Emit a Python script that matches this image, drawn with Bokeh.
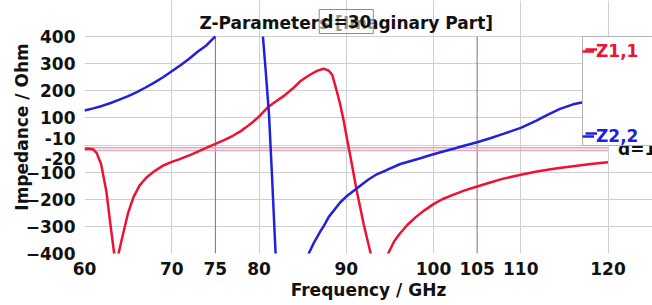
import numpy as np
from bokeh.plotting import figure
from bokeh.models import Range1d, Label, Legend, LegendItem, FixedTicker
from bokeh.embed import file_html
from bokeh.resources import INLINE

# ---- data ----
freq_z11 = [60.0, 60.5, 61.0, 61.4, 61.9, 62.5, 63.0, 63.4, 63.65, 63.9, 64.5, 65.0, 65.6, 66.3,
            67.1, 68.0, 69.0, 70.0, 70.9, 72.0, 72.8, 74.0, 75.0, 76.0, 77.0, 78.0, 78.5, 79.3,
            80.1, 81.0, 82.0, 82.9, 84.0, 84.8, 85.8, 86.7, 87.4, 88.0, 88.4, 88.9, 89.3, 89.7,
            90.1, 90.5, 91.2, 92.0, 92.8, 93.3, 94.3, 94.8, 95.5, 96.1, 97.0, 98.0, 99.0, 100.0,
            101.0, 102.3, 103.5, 105.0, 106.5, 108.0, 110.0, 112.0, 114.0, 116.0, 118.0, 120.0]
z11 = [-14, -14, -16, -30, -70, -170, -300, -400, -440, -400, -317, -250, -193, -150,
       -120, -97, -76, -62, -52, -38, -27, -10, 4, 18, 34, 53, 65, 85,
       108, 139, 162, 182, 212, 237, 258, 274, 281, 274, 258, 200, 150, 90,
       20, -46, -169, -292, -400, -520, -500, -400, -355, -328, -295, -265, -240, -218,
       -200, -183, -168, -153, -138, -124, -110, -97, -87, -78, -70, -64]

# Z2,2 leaves the chart at the top near 75 GHz and comes back near 80.5 GHz (pole)
freq_z22 = [60.0, 61.0, 62.0, 63.0, 64.0, 65.0, 66.0, 67.0, 68.0, 69.0, 70.0, 71.0, 72.0, 73.0,
            74.0, 74.5, 75.0, 78.0, 80.45, 80.8, 81.15, 81.5, 81.9, 82.2, 84.0,
            85.3, 85.7, 86.3, 87.0, 87.4, 88.0, 89.3, 90.0, 91.2, 92.5, 93.5, 94.6, 96.2, 98.4,
            99.6, 101.0, 102.3, 103.5, 105.0, 106.5, 108.0, 110.0, 111.8, 113.0, 114.5, 116.0,
            117.0, 118.0, 119.0, 120.0]
z22 = [127, 135, 144, 155, 167, 180, 195, 212, 230, 250, 272, 294, 318, 345,
       368, 385, 400, np.nan, 400, 260, 110, -120, -400, -500, np.nan,
       -480, -400, -360, -320, -300, -265, -212, -190, -160, -128, -108, -93, -70, -50,
       -38, -25, -14, -3, 10, 25, 41, 63, 90, 110, 133, 150,
       157, 165, 175, 185]

x_ticks = [60, 70, 80, 90, 100, 110, 120]
y_ticks = [-400, -300, -200, -100, 0, 100, 200, 300, 400]
marker_freqs = [75, 105]
marker_freq_labels = ["75", "105"]
marker_levels = [-10, -20]
marker_level_labels = ["-10", "-20"]
marker_freq_delta = "d=30"
marker_level_delta = "d=10"
series_names = ["Z1,1", "Z2,2"]
title_text = "Z-Parameters [Imaginary Part]"
x_label = "Frequency / GHz"
y_label = "Impedance / Ohm"

# ---- layout / style ----
RED = "#ee1133"
BLUE = "#2020dd"
FONT = "DejaVu Sans"
FS = "17px"
INK = "#111111"
W, H = 652, 305
PL, PR, PT, PB = 84, 607.5, 36, 253          # plot rectangle in pixels
X0, X1, Y0, Y1 = 60, 120, -400, 400
ppx = (PR - PL) / (X1 - X0)
ppy = (PB - PT) / (Y1 - Y0)
x_view_end = X0 + (W - PL) / ppx              # frame reaches the right edge (legend lives there)
y_view_end = Y1 + PT / ppy                    # frame reaches the top edge (title lives there)

p = figure(width=W, height=H, output_backend="svg", toolbar_location=None,
           x_range=Range1d(X0, x_view_end), y_range=Range1d(Y0, y_view_end),
           min_border_left=PL, min_border_right=0, min_border_top=0, min_border_bottom=H - PB)
p.title.visible = False
p.outline_line_color = None
p.background_fill_color = "white"
p.border_fill_color = "white"

for g in (p.xgrid, p.ygrid):
    g.grid_line_color = "#cfcfcf"
    g.grid_line_width = 1
p.xgrid.ticker = FixedTicker(ticks=x_ticks)
p.ygrid.ticker = FixedTicker(ticks=y_ticks)
p.xgrid.bounds = (Y0, Y1)
p.ygrid.bounds = (X0, X1)

# marker values shown on the axes next to the marker lines
level_label_pos = [round(lv + off / ppy, 2) for lv, off in zip(marker_levels, [9, -8])]
p.xaxis.ticker = FixedTicker(ticks=sorted(x_ticks + marker_freqs))
p.yaxis.ticker = FixedTicker(ticks=y_ticks + level_label_pos)
overrides = {0: ""}
overrides.update({pos: t for pos, t in zip(level_label_pos, marker_level_labels)})
p.yaxis.major_label_overrides = overrides
p.xaxis.bounds = (X0, X1)
p.yaxis.bounds = (Y0, Y1)
for ax in (p.xaxis, p.yaxis):
    ax.major_tick_line_color = None
    ax.minor_tick_line_color = None
    ax.axis_line_color = None
    ax.major_label_text_font = FONT
    ax.major_label_text_font_size = FS
    ax.major_label_text_font_style = "bold"
    ax.major_label_text_color = INK
    ax.axis_label_text_font = FONT
    ax.axis_label_text_font_size = FS
    ax.axis_label_text_font_style = "bold"
    ax.axis_label_text_color = INK
p.xaxis.major_label_standoff = 2
p.yaxis.major_label_standoff = 3
p.yaxis.axis_label = y_label
p.yaxis.axis_label_standoff = -9
p.xaxis.axis_label = x_label
p.xaxis.axis_label_standoff = 2

# marker lines (limited to the plot rectangle)
p.segment(x0=marker_freqs, x1=marker_freqs, y0=[Y0] * 2, y1=[Y1] * 2,
          line_color="#9e5c74", line_width=1)
p.segment(x0=[X0] * 2, x1=[X1] * 2, y0=marker_levels, y1=marker_levels,
          line_color="#dcaac0", line_width=1.6)

r1 = p.line(freq_z11, z11, line_color=RED, line_width=2.5)
r2 = p.line(freq_z22, z22, line_color=BLUE, line_width=2.5)

# legend: one box holding both entry glyphs, then one coloured text layer per entry
ITEM_H, PAD, GAP = 21, 2, 64
box_h = 2 * PAD + 2 * ITEM_H + GAP
LEG = dict(padding=PAD, glyph_width=12, glyph_height=20, label_standoff=2, label_width=70,
           label_text_font=FONT, label_text_font_size=FS, label_text_font_style="bold", margin=0)
legend_x, legend_y = 498, 107
p.add_layout(Legend(items=[LegendItem(label=" ", renderers=[r1]),
                           LegendItem(label=" ", renderers=[r2])],
                    location=(legend_x, legend_y), spacing=GAP, label_text_alpha=0,
                    border_line_color="#666666", border_line_width=1, background_fill_alpha=1,
                    **LEG))
p.add_layout(Legend(items=[LegendItem(label=series_names[0], renderers=[r1])],
                    location=(legend_x, legend_y + box_h - (2 * PAD + ITEM_H)),
                    label_text_color=RED, border_line_color=None, background_fill_alpha=0, **LEG))
p.add_layout(Legend(items=[LegendItem(label=series_names[1], renderers=[r2])],
                    location=(legend_x, legend_y),
                    label_text_color=BLUE, border_line_color=None, background_fill_alpha=0, **LEG))

def txt(**kw):
    base = dict(text_font=FONT, text_font_size=FS, text_font_style="bold", text_color=INK)
    base.update(kw)
    return Label(**base)

# title (inside the extended frame, above the plot rectangle)
p.add_layout(txt(x=(X0 + X1) / 2, y=Y1, y_offset=13.5, text=title_text, text_align="center",
                 text_baseline="alphabetic"))
# marker deltas
p.add_layout(txt(x=sum(marker_freqs) / 2, y=Y1, y_offset=15, text=marker_freq_delta,
                 text_align="center", text_baseline="middle", border_line_color="#8a8a8a",
                 background_fill_color="white", background_fill_alpha=0.55, padding=2))
p.add_layout(txt(x=X1, y=sum(marker_levels) / 2, x_offset=10, text=marker_level_delta,
                 text_align="left", text_baseline="middle"))

open("out.html", "w").write(file_html(p, INLINE))
